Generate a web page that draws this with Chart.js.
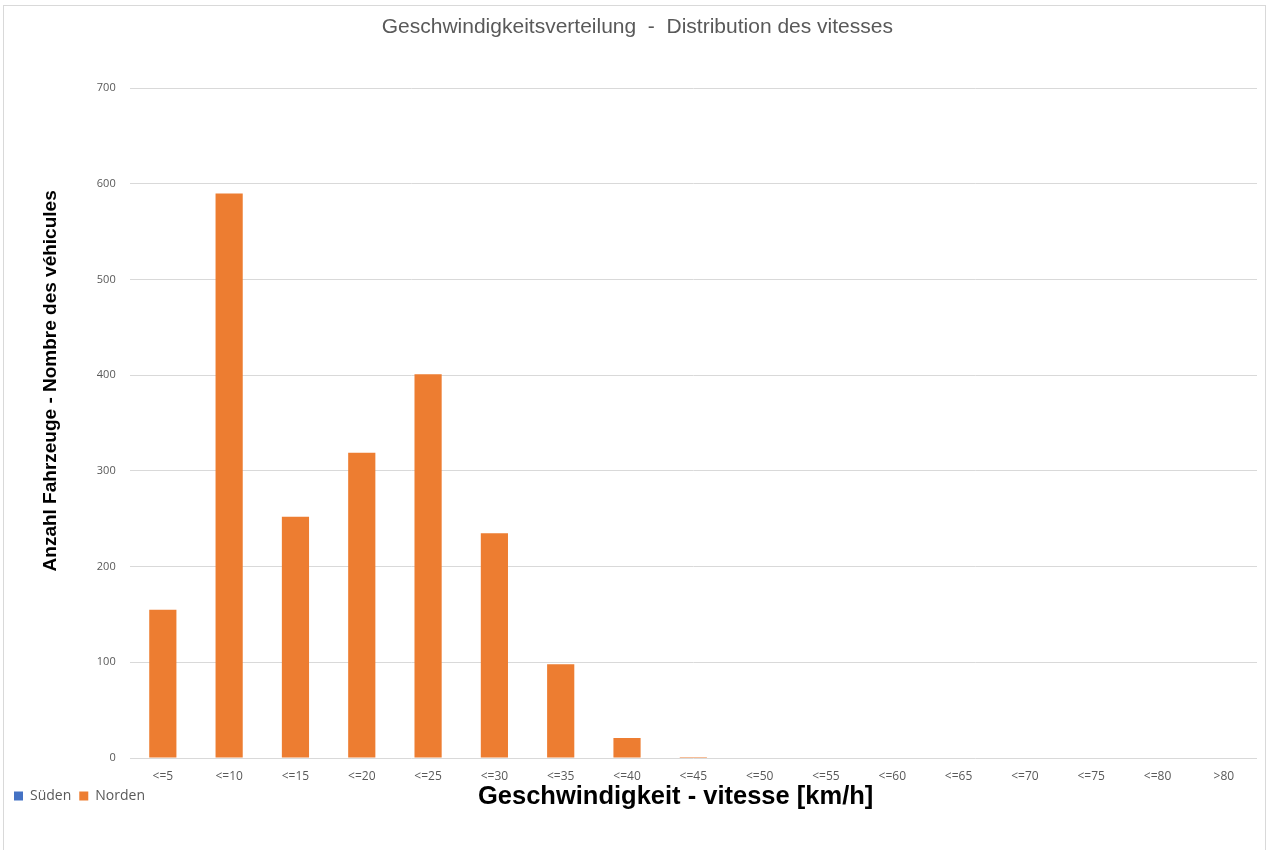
<!DOCTYPE html>
<html>
<head>
<meta charset="utf-8">
<script src="https://cdn.jsdelivr.net/npm/chart.js@4"></script>
<style>
  html, body { margin: 0; padding: 0; background: #fff; }
  #wrap { position: relative; width: 1271px; height: 850px; }
  #frame { position: absolute; left: 3px; top: 5px; width: 1263px; height: 850px; border: 1px solid #d9d9d9; box-sizing: border-box; }
  canvas { position: absolute; left: 0; top: 0; }
</style>
</head>
<body>
<div id="wrap">
  <div id="frame"></div>
  <canvas id="speedChart" width="1271" height="850"></canvas>
</div>
<script>
const categories = ['<=5', '<=10', '<=15', '<=20', '<=25', '<=30', '<=35', '<=40', '<=45',
    '<=50', '<=55', '<=60', '<=65', '<=70', '<=75', '<=80', '>80']
const sueden = [0, 0, 0, 0, 0, 0, 0, 0, 0, 0, 0, 0, 0, 0, 0, 0, 0]
const norden = [155, 590, 252, 319, 401, 235, 98, 21, 1, 0, 0, 0, 0, 0, 0, 0, 0]

const ctx = document.getElementById('speedChart').getContext('2d')
const speedChart = new Chart(ctx, {
    type: 'bar',
    data: {
        labels: categories,
        datasets: [
            {
                label: 'Süden',
                data: sueden,
                backgroundColor: '#4472C4',
                grouped: false,
                categoryPercentage: 1,
                barPercentage: 0.41
            },
            {
                label: 'Norden',
                data: norden,
                backgroundColor: '#ED7D31',
                grouped: false,
                categoryPercentage: 1,
                barPercentage: 0.41
            }
        ]
    },
    options: {
        responsive: false,
        animation: false,
        layout: {
            padding: { left: 6, right: 14, top: 8, bottom: 37 }
        },
        plugins: {
            title: {
                display: true,
                // two leading spaces nudge the centred title right a bit
                text: '  Geschwindigkeitsverteilung  -  Distribution des vitesses',
                color: '#595959',
                font: { family: 'Liberation Sans', size: 21, weight: 'normal' },
                padding: { top: 7, bottom: 48 }
            },
            legend: {
                position: 'bottom',
                align: 'start',
                labels: {
                    boxWidth: 9,
                    boxHeight: 9,
                    padding: 8,
                    color: '#595959',
                    font: { family: 'Open Sans', size: 14 }
                }
            },
            tooltip: { enabled: false }
        },
        scales: {
            x: {
                grid: { display: false },
                border: { display: false },
                ticks: {
                    color: '#595959',
                    font: { family: 'Open Sans', size: 12 },
                    maxRotation: 0,
                    padding: 3
                },
                title: {
                    display: true,
                    text: 'Geschwindigkeit - vitesse [km/h]     ',
                    color: '#000',
                    font: { family: 'Liberation Sans', size: 25.5, weight: 'bold' },
                    padding: { top: -5, bottom: -31 }
                }
            },
            y: {
                min: 0,
                max: 700,
                grid: { color: '#d9d9d9', drawTicks: false },
                border: { display: false },
                ticks: {
                    stepSize: 100,
                    color: '#595959',
                    font: { family: 'Open Sans', size: 11 },
                    padding: 14
                },
                title: {
                    display: true,
                    // leading spaces lift the rotated label like in the original
                    text: '                Anzahl Fahrzeuge - Nombre des véhicules',
                    color: '#000',
                    font: { family: 'Liberation Sans', size: 19, weight: 'bold' },
                    padding: { top: 33, bottom: 21 }
                }
            }
        }
    }
})
</script>
</body>
</html>
